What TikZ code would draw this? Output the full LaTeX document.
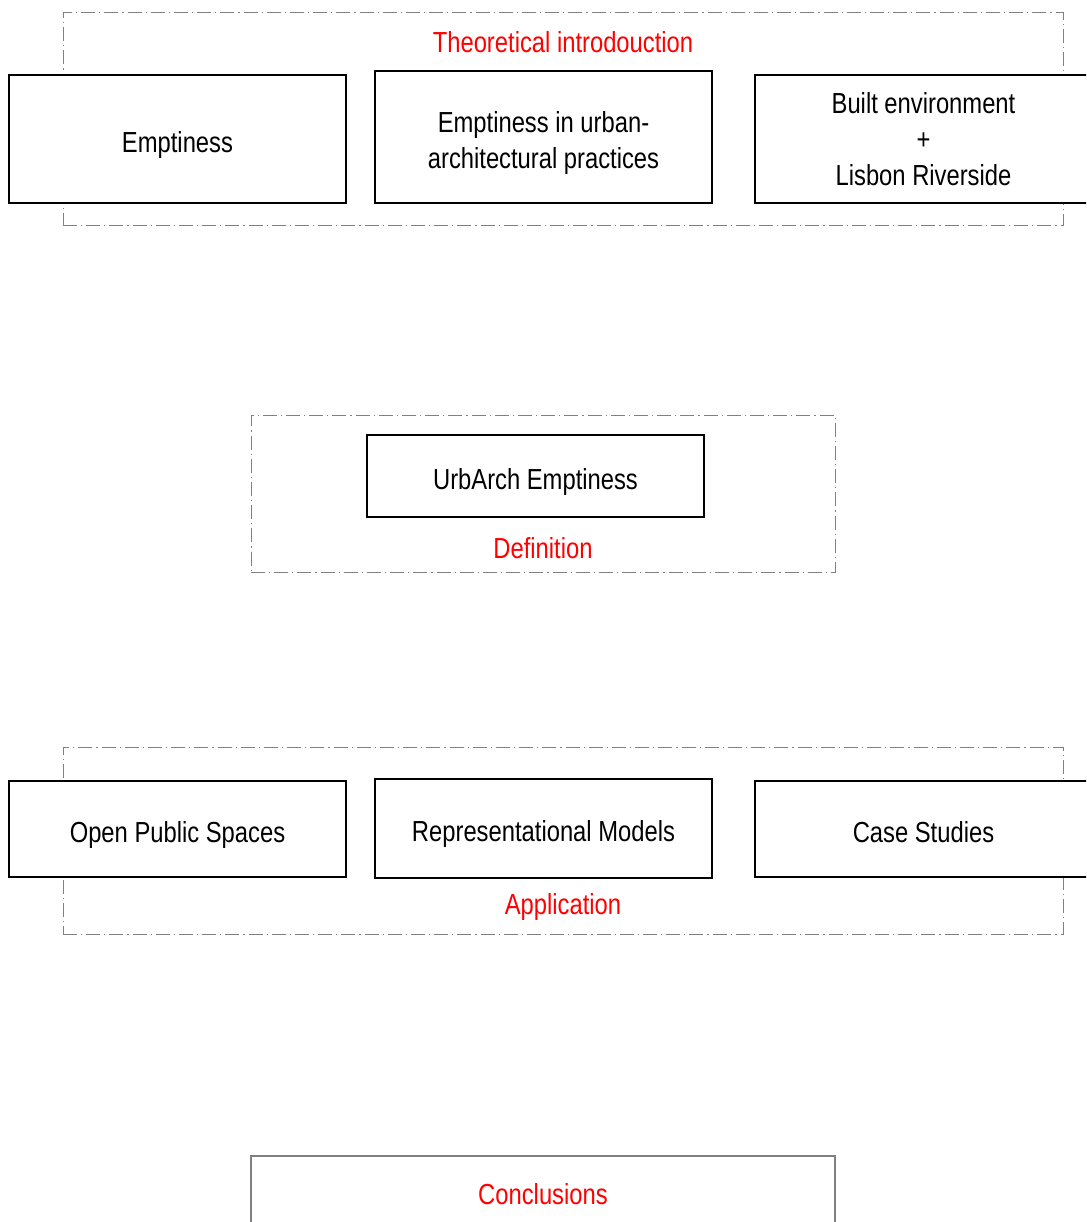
\documentclass[tikz,border=0pt]{standalone}
\usepackage{fontspec}
\setmainfont{Liberation Sans}[FakeStretch=0.82]
\begin{document}
\begin{tikzpicture}[x=1pt,y=-1pt,
  group/.style={draw=black!50, line width=1pt, inner sep=0pt,
    dash pattern=on 14pt off 4pt on 1.2pt off 4pt},
  stage/.style={draw=black, line width=1.2pt, fill=white, inner sep=0pt,
    font=\fontsize{29}{36}\selectfont, align=center},
  oneline/.style={stage, text height=28pt, text depth=1.5pt},
  caption/.style={text=red, inner sep=0pt, font=\fontsize{29}{36}\selectfont}]
\useasboundingbox (0,0) rectangle (1086,1222);
\clip (0,0) rectangle (1086,1222);
\fill[white] (0,0) rectangle (1086,1222);

% dashed group frames
\node[group, minimum width=1000pt, minimum height=213pt] (g1) at (563,119.5) {};
\node[group, minimum width=584pt, minimum height=157pt] (g2) at (543,493.5) {};
\node[group, minimum width=1000pt, minimum height=187pt] (g3) at (563,840.5) {};

% theoretical introduction
\node[caption] (l1) at (563,42) {Theoretical introdouction};
\node[oneline, minimum width=337pt, minimum height=128pt] (e1) at (177.5,139) {Emptiness};
\node[stage, minimum width=337pt, minimum height=132pt] (e2) at (543.5,137)
  {\rule{0pt}{34pt}Emptiness in urban-\\architectural practices};
\node[stage, minimum width=337pt, minimum height=128pt] (e3) at (923.5,139) {Built environment\\+\\Lisbon Riverside};

% definition
\node[oneline, minimum width=337pt, minimum height=82pt] (d1) at (535.5,476) {UrbArch Emptiness};
\node[caption] (l2) at (543,548) {Definition};

% application
\node[oneline, minimum width=337pt, minimum height=96pt] (a1) at (177.5,829) {Open Public Spaces};
\node[oneline, minimum width=337pt, minimum height=99pt] (a2) at (543.5,828.5) {Representational Models};
\node[oneline, minimum width=337pt, minimum height=96pt] (a3) at (923.5,829) {Case Studies};
\node[caption] (l3) at (563,907) {Application};

% conclusions
\node[draw=black!50, line width=1.3pt, minimum width=584pt, minimum height=120pt, inner sep=0pt] (c1) at (543,1216) {};
\node[caption] (l4) at (543,1194) {Conclusions};
\end{tikzpicture}
\end{document}
